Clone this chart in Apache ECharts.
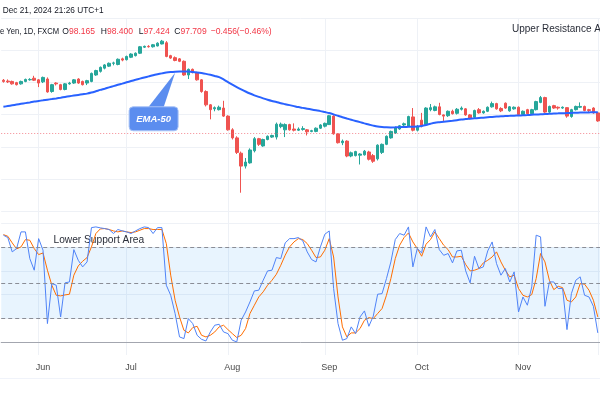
<!DOCTYPE html>
<html><head><meta charset="utf-8">
<script src="https://cdn.jsdelivr.net/npm/echarts@6/dist/echarts.min.js"></script>
<style>html,body{margin:0;padding:0;background:#fff}#c{width:600px;height:400px}</style>
</head><body><div id="c"></div>
<script>
// ---------- data ----------
const startDate = [2024, 4, 21]; // first bar: 2024-05-21 (weekday bars)
const monthNames = ['Jan','Feb','Mar','Apr','May','Jun','Jul','Aug','Sep','Oct','Nov','Dec'];
// [open, close, low, high]
const candles = [
[104.25,104.10,103.95,104.40],[104.15,104.05,103.90,104.35],[104.10,103.80,103.70,104.20],[103.95,103.70,103.60,104.05],
[103.80,104.10,103.70,104.20],[104.10,104.35,104.00,104.45],[104.30,104.35,104.20,104.50],[104.50,104.25,104.15,104.80],
[104.30,103.90,103.40,104.40],[104.05,104.60,103.90,104.70],[104.40,102.80,102.70,104.60],[102.85,103.70,102.70,103.80],
[103.90,103.80,103.60,104.00],[103.70,103.10,103.00,103.80],[103.10,103.80,103.00,103.90],[103.80,103.90,103.70,104.05],
[103.90,104.30,103.80,104.40],[104.40,103.90,103.80,104.50],[104.10,103.70,103.60,104.20],[103.90,104.20,103.65,104.30],
[104.10,105.10,104.00,105.20],[104.90,105.45,104.80,105.55],[105.35,105.85,105.20,105.95],[105.75,106.15,105.60,106.25],
[106.00,106.35,105.90,106.45],[106.35,106.40,106.10,106.55],[106.20,106.85,106.10,106.95],[106.90,106.75,106.60,107.05],
[106.80,107.20,106.70,107.30],[107.10,107.50,107.00,107.60],[107.30,107.60,107.20,107.70],[107.60,108.40,107.50,108.50],
[108.35,108.45,108.25,108.55],[108.45,108.40,108.30,108.60],[108.40,108.65,108.30,108.75],[108.50,108.85,108.45,108.95],
[108.75,109.10,108.70,109.25],[108.90,107.20,107.10,109.10],[107.30,107.00,106.90,107.40],[107.05,106.70,106.60,107.20],
[106.90,106.60,106.50,107.00],[106.60,104.90,104.80,106.70],[104.90,105.60,104.40,105.70],[105.60,105.20,105.10,105.70],
[105.20,104.30,104.20,105.30],[104.30,102.85,102.70,104.40],[102.85,101.20,101.00,103.00],[101.20,100.60,99.40,101.30],
[100.70,100.85,100.40,101.00],[100.60,100.90,100.50,101.10],[100.80,99.80,99.70,101.70],[99.80,98.10,98.00,99.90],
[98.10,97.10,96.90,98.30],[97.10,95.30,95.10,97.30],[95.20,93.60,90.30,95.40],[93.60,94.10,93.30,94.60],
[94.00,95.60,93.90,95.80],[95.50,97.00,95.30,97.20],[97.00,96.30,96.10,97.10],[96.10,96.90,96.00,97.00],
[96.90,97.30,96.80,97.40],[97.20,97.40,97.10,97.50],[97.20,98.80,96.90,99.00],[98.50,98.80,98.30,99.00],
[98.10,98.75,97.20,98.90],[98.75,98.10,98.00,98.85],[98.20,98.05,97.90,98.90],[98.05,98.20,97.95,98.40],
[98.15,98.25,98.00,98.55],[98.10,97.85,97.40,98.20],[97.90,98.00,97.80,98.10],[97.90,98.30,97.80,98.40],
[98.30,98.70,98.20,98.80],[98.55,98.90,98.40,99.00],[98.75,99.85,98.70,99.95],[99.80,97.60,97.50,99.90],
[97.60,96.50,96.40,97.70],[96.50,96.70,96.20,96.90],[96.70,94.85,94.70,96.80],[94.85,95.25,94.70,95.40],
[94.90,95.40,94.80,95.50],[94.95,95.10,93.80,95.20],[95.00,95.45,94.90,95.60],[95.35,94.45,94.30,95.50],
[94.90,94.20,94.00,95.10],[94.50,96.20,94.30,96.30],[95.30,96.30,95.10,96.40],[96.30,97.30,96.20,97.40],
[97.10,97.90,97.00,98.00],[97.70,98.40,97.60,98.50],[98.20,98.60,98.10,98.70],[98.70,98.85,98.50,99.00],
[98.55,99.75,98.45,99.85],[99.70,98.05,97.90,100.80],[98.05,98.55,97.90,98.70],[99.30,98.55,98.40,100.20],
[98.75,100.80,98.60,100.90],[100.60,100.85,100.40,101.30],[100.50,100.95,100.40,101.10],[100.95,100.00,99.90,101.45],
[99.95,99.80,99.20,100.00],[99.85,100.40,99.70,100.50],[100.40,100.10,100.00,100.60],[100.15,100.65,100.00,100.80],
[100.65,100.80,100.50,101.00],[100.70,99.95,99.85,100.80],[99.95,99.55,99.40,100.05],[99.65,100.50,99.50,100.60],
[100.60,100.20,100.10,100.80],[100.20,100.40,100.10,100.50],[100.40,100.90,100.30,101.00],[100.95,101.35,100.85,101.60],
[101.35,100.70,100.60,101.45],[100.75,100.45,100.30,100.90],[101.40,100.80,100.70,101.50],[100.45,100.95,100.35,101.05],
[100.70,100.90,100.60,101.00],[100.90,100.00,99.90,101.00],[100.00,100.40,99.90,100.50],[100.60,100.10,100.00,100.70],
[100.10,100.60,100.00,100.70],[100.60,101.60,100.50,101.70],[101.50,102.10,101.40,102.30],[102.10,100.30,100.20,102.20],
[100.30,101.00,100.20,101.10],[101.10,100.80,100.70,101.20],[100.90,100.80,100.60,101.00],[100.80,100.90,100.70,101.00],
[100.85,99.80,99.60,100.90],[99.75,100.60,99.60,100.70],[100.60,101.00,100.50,101.10],[100.90,101.00,100.80,101.50],
[101.00,100.50,100.40,101.10],[100.60,100.50,100.30,100.70],[100.80,100.20,100.10,100.90],[100.20,99.20,99.10,100.30]
];
const ema50 = [
100.95,101.05,101.14,101.23,101.32,101.41,101.50,101.60,101.68,101.76,
101.84,101.91,101.99,102.08,102.18,102.27,102.35,102.43,102.51,102.59,
102.72,102.88,103.05,103.20,103.36,103.52,103.68,103.83,103.99,104.15,
104.30,104.45,104.59,104.73,104.87,104.99,105.10,105.20,105.26,105.30,
105.32,105.33,105.32,105.28,105.22,105.14,105.04,104.92,104.78,104.63,
104.35,104.02,103.70,103.40,103.12,102.85,102.60,102.38,102.18,102.00,
101.83,101.68,101.55,101.40,101.28,101.16,101.04,100.92,100.82,100.72,
100.62,100.52,100.42,100.30,100.18,100.02,99.84,99.66,99.50,99.35,
99.20,99.05,98.90,98.76,98.62,98.50,98.44,98.41,98.40,98.41,
98.43,98.45,98.47,98.49,98.52,98.58,98.70,98.85,98.98,99.05,
99.11,99.17,99.23,99.30,99.37,99.44,99.48,99.52,99.57,99.61,
99.66,99.70,99.74,99.77,99.80,99.83,99.86,99.88,99.90,99.93,
99.97,100.00,100.03,100.06,100.09,100.12,100.14,100.16,100.18,100.20,
100.22,100.24,100.25,100.26,100.27,100.27
];
const stochK = [
90.2,88.2,76.1,78.9,93.0,93.0,70.4,60.6,87.3,77.5,
15.5,49.3,47.9,21.1,49.9,50.7,78.0,69.0,63.4,67.6,
96.6,97.2,96.4,95.8,95.0,91.6,95.0,93.8,93.0,91.6,
93.8,95.8,97.2,96.6,91.6,96.6,96.6,47.9,39.4,23.9,
4.2,2.8,19.7,15.5,5.6,2.2,0.8,8.4,14.1,14.9,
8.4,7.0,1.4,0.0,18.3,25.3,33.8,43.1,43.7,52.1,
60.0,60.6,71.3,70.4,83.7,87.3,87.3,88.2,85.4,76.1,
69.6,67.6,80.3,91.0,93.8,45.1,15.5,1.4,2.8,12.7,
7.0,21.1,26.2,13.2,21.7,40.3,40.8,53.5,67.6,86.5,
91.6,90.2,97.2,63.4,78.9,75.2,97.2,88.8,95.0,78.0,
73.2,74.7,66.8,76.9,77.5,60.0,49.9,72.4,62.0,63.4,
76.9,84.5,66.2,56.4,62.0,50.7,59.2,25.3,38.0,31.0,
46.5,90.2,88.8,30.1,50.7,50.7,45.1,45.1,10.4,40.8,
52.1,55.0,39.4,38.0,30.1,7.6
];
const stochD = [
90.7,89.3,83.7,78.6,80.3,86.5,85.9,78.9,73.8,75.2,
60.6,47.9,39.4,38.9,39.7,40.3,56.4,64.2,68.2,71.3,
80.3,91.6,95.5,95.8,95.0,93.8,93.0,93.8,93.0,92.4,
93.0,94.4,95.8,95.8,95.0,95.0,95.0,83.1,56.4,35.2,
21.1,9.8,7.6,12.1,13.2,5.6,4.2,5.6,8.4,12.7,
14.1,10.4,7.0,3.7,5.6,11.3,24.0,31.0,38.0,42.3,
47.9,52.1,57.2,64.8,73.3,80.3,84.5,87.3,86.5,83.1,
77.5,71.3,71.8,77.5,87.3,71.8,38.0,12.7,4.2,7.6,
7.6,11.3,18.3,20.5,19.7,24.0,28.2,39.4,53.5,70.4,
81.7,88.2,92.1,84.5,78.9,72.4,82.6,86.5,93.0,87.3,
81.7,78.0,71.8,71.8,72.4,65.4,60.0,60.6,62.0,66.8,
69.0,71.8,76.1,67.6,60.6,55.0,56.4,45.1,39.4,38.0,
40.0,53.5,74.7,67.6,52.1,44.2,47.0,45.9,35.2,33.8,
38.0,49.3,48.8,43.7,35.2,21.1
];
const lastPrice = 97.709;
const stochLevels = [80, 50, 20];
const stochBand = [20, 80];
const calloutIndex = 39;
const headerDate = 'Dec 21, 2024 21:26 UTC+1';
const headerSymbol = 'Australian Dollar / Japanese Yen, 1D, FXCM';
const ohlcText = [['O','98.165'],['H','98.400'],['L','97.424'],['C','97.709']];
const changeText = ['\u22120.456', '(\u22120.46%)'];

// ---------- categories ----------
const dates = [];
(function(){
  const d = new Date(Date.UTC(startDate[0], startDate[1], startDate[2]));
  while (dates.length < candles.length) {
    const wd = d.getUTCDay();
    if (wd !== 0 && wd !== 6) dates.push(d.toISOString().slice(0,10));
    d.setUTCDate(d.getUTCDate() + 1);
  }
})();
const isMonthStart = i => i > 0 && dates[i].slice(5,7) !== dates[i-1].slice(5,7);

const FONT = '"Liberation Sans", Arial, sans-serif';
const UP = '#26a69a', DOWN = '#ef5350', GRIDC = '#eef1f6';

const chart = echarts.init(document.getElementById('c'), null, {renderer:'canvas'});
const option = {
  animation: false,
  backgroundColor: '#ffffff',
  grid: [
    {left: 1.2, right: 0, top: 17.75, height: 193.5, outerBoundsMode: 'none', containLabel: false},
    {left: 1.2, right: 0, top: 223.6, height: 118.3, outerBoundsMode: 'none', containLabel: false},
    {left: -1.0, right: 2.2, top: 19, bottom: 45, outerBoundsMode: 'none', containLabel: false}
  ],
  xAxis: [
    {type:'category', gridIndex:0, data:dates, boundaryGap:true, axisLine:{show:false}, axisTick:{show:false}, axisLabel:{show:false}, splitLine:{show:false}},
    {type:'category', gridIndex:1, data:dates, boundaryGap:true, offset:13,
      axisLine:{show:true, lineStyle:{color:'#a3a6af', width:1}}, axisTick:{show:false},
      axisLabel:{show:true, interval:(i)=>isMonthStart(i), formatter:(v)=>monthNames[parseInt(v.slice(5,7),10)-1],
        color:'#4a4a4a', fontSize:9, fontFamily:FONT, margin:8},
      splitLine:{show:false}},
    {type:'category', gridIndex:2, data:dates, boundaryGap:true, axisLine:{show:false}, axisTick:{show:false}, axisLabel:{show:false},
      splitLine:{show:true, interval:(i)=>isMonthStart(i), lineStyle:{color:GRIDC, width:1}}}
  ],
  yAxis: [
    {type:'value', gridIndex:0, min:88, max:112, interval:4, axisLine:{show:false}, axisTick:{show:false}, axisLabel:{show:false},
      splitLine:{show:true, lineStyle:{color:GRIDC, width:1}}},
    {type:'value', gridIndex:1, min:0, max:100, interval:20, axisLine:{show:false}, axisTick:{show:false}, axisLabel:{show:false},
      splitLine:{show:true, lineStyle:{color:GRIDC, width:1}}},
    {type:'value', gridIndex:2, min:0, max:1, show:false, splitLine:{show:false}}
  ],
  series: [
    {type:'candlestick', name:'price', xAxisIndex:0, yAxisIndex:0, data:candles, barWidth:3,
      itemStyle:{color:UP, color0:DOWN, borderColor:UP, borderColor0:DOWN, borderWidth:1},
      markLine:{symbol:'none', silent:true, label:{show:false}, animation:false,
        lineStyle:{color:'#f06a75', type:[1,2], width:1, opacity:0.8},
        data:[{yAxis:lastPrice}]}},
    {type:'line', name:'EMA-50', xAxisIndex:0, yAxisIndex:0, data:ema50, showSymbol:false, smooth:0.3,
      lineStyle:{color:'#2962ff', width:2}, itemStyle:{color:'#2962ff'}, z:3},
    {type:'line', name:'%K', xAxisIndex:1, yAxisIndex:1, data:stochK, showSymbol:false,
      lineStyle:{color:'#4f83f7', width:1}, itemStyle:{color:'#4f83f7'}, z:4,
      markArea:{silent:true, itemStyle:{color:'rgba(33,150,243,0.1)'}, data:[[{yAxis:stochBand[0]},{yAxis:stochBand[1]}]]},
      markLine:{symbol:'none', silent:true, label:{show:false}, animation:false,
        lineStyle:{color:'#8a8d96', type:[4,3], width:1},
        data: stochLevels.map(v=>({yAxis:v}))}},
    {type:'line', name:'%D', xAxisIndex:1, yAxisIndex:1, data:stochD, showSymbol:false,
      lineStyle:{color:'#ff6d00', width:1}, itemStyle:{color:'#ff6d00'}, z:3},
    {type:'scatter', xAxisIndex:2, yAxisIndex:2, data:[], silent:true}
  ]
};
chart.setOption(option);

// ---------- annotations ----------
const [ax, ay] = chart.convertToPixel({gridIndex:0}, [dates[calloutIndex], ema50[calloutIndex]]);
const HF = '9.3px ' + FONT;
const gfx = [
  {type:'text', x:2.7, y:10.5, scaleX:0.89, style:{text:headerDate, font:HF, fill:'#131722', verticalAlign:'middle'}},
  {type:'text', x:59, y:31, scaleX:0.82, style:{text:headerSymbol, font:HF, fill:'#131722', align:'right', verticalAlign:'middle'}},
];
const ohlcX = [62.3, 100.7, 138.8, 174.3];
ohlcText.forEach((p, k) => {
  gfx.push({type:'text', x:ohlcX[k], y:31, scaleX:0.92, style:{
    text:'{k|' + p[0] + '}{v|' + p[1] + '}', font:HF, verticalAlign:'middle',
    rich:{k:{fill:'#131722', font:HF}, v:{fill:'#f23645', font:HF}}}});
});
gfx.push({type:'text', x:210.7, y:31, scaleX:0.92, style:{text:changeText[0], font:HF, fill:'#f23645', verticalAlign:'middle'}});
gfx.push({type:'text', x:236.7, y:31, scaleX:0.92, style:{text:changeText[1], font:HF, fill:'#f23645', verticalAlign:'middle'}});
gfx.push({type:'text', x:512, y:29, style:{text:'Upper Resistance Area', font:'10px '+FONT, fill:'#2a2e39', verticalAlign:'middle'}});
gfx.push({type:'text', x:53.5, y:240.5, style:{text:'Lower Support Area', font:'10.2px '+FONT, fill:'#2a2e39', verticalAlign:'middle'}});
gfx.push({type:'polygon', z:10, shape:{points:[[ax-28, ay+37],[ax-12, ay+37],[ax, ay+1]]}, style:{fill:'#5b8def'}});
gfx.push({type:'rect', z:10, shape:{x:ax-46, y:ay+35, width:49, height:24, r:4}, style:{fill:'#5b8def', stroke:'#a9c4f7', lineWidth:1}});
gfx.push({type:'text', z:11, x:ax-21.5, y:ay+47.5, style:{text:'EMA-50', font:'italic bold 9.5px '+FONT, fill:'#ffffff', align:'center', verticalAlign:'middle'}});
gfx.push({type:'line', shape:{x1:0, y1:378.5, x2:600, y2:378.5}, style:{stroke:'#f0f3fa', lineWidth:1}});
chart.setOption({graphic: gfx});
</script></body></html>
